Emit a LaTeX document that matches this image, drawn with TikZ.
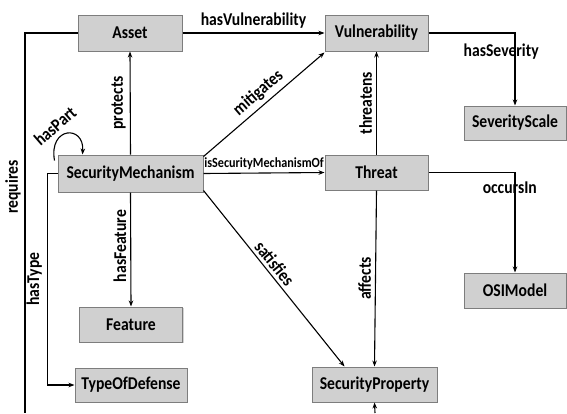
\documentclass[tikz,border=0pt]{standalone}
\usepackage{fontspec}
\setmainfont{Carlito}[FakeStretch=0.87]
\usetikzlibrary{arrows.meta,shadows}
\definecolor{boxfill}{RGB}{208,208,208}
\definecolor{boxline}{RGB}{125,125,125}
\tikzset{
  cls/.style={draw=boxline, fill=boxfill, line width=1pt, inner sep=0pt,
    font=\fontsize{18}{20}\selectfont\bfseries,
    drop shadow={shadow xshift=1.2pt, shadow yshift=-1.2pt, opacity=0.35}},
  rel/.style={line width=1.1pt, -{Stealth[length=6pt,width=4.5pt]}},
  plain/.style={line width=1.1pt},
  lab/.style={font=\fontsize{18}{20}\selectfont\bfseries, inner sep=0pt},
  slab/.style={font=\fontsize{14}{16}\selectfont\bfseries, inner sep=0pt},
}
\begin{document}
\begin{tikzpicture}[x=1pt,y=-1pt]
\useasboundingbox (0,0) rectangle (567,413);
% nodes
\node[cls, minimum width=104pt, minimum height=36pt] (asset) at (130,33) {Asset};
\node[cls, minimum width=103pt, minimum height=36pt] (vul) at (376.5,33) {Vulnerability};
\node[cls, minimum width=102pt, minimum height=34pt] (sev) at (515,123) {SeverityScale};
\node[cls, minimum width=145pt, minimum height=37pt] (sm) at (130.5,173.5) {SecurityMechanism};
\node[cls, minimum width=103pt, minimum height=35pt] (thr) at (376.5,172.5) {Threat};
\node[cls, minimum width=103pt, minimum height=35pt] (feat) at (131,324.5) {Feature};
\node[cls, minimum width=112pt, minimum height=34pt] (tod) at (131,385) {TypeOfDefense};
\node[cls, minimum width=102pt, minimum height=35pt] (osi) at (515,290.5) {OSIModel};
\node[cls, minimum width=125pt, minimum height=35pt] (sp) at (374.5,384.5) {SecurityProperty};
% coordinates
\coordinate (reqend) at (25,413);
\coordinate (spin) at (375,413);
% edges
\draw[rel] (asset.east) -- node[lab, above=4pt] {hasVulnerability} (vul.west);
\draw[plain] (asset.west) -| (reqend);
\node[lab, rotate=90] (reqlab) at (13,187) {requires};
\draw[rel] (sm.north) -- node[lab, rotate=90, above=4pt, anchor=south] {protects} (asset.south);
\draw[rel] ([xshift=-3pt,yshift=-6pt]sm.north west) .. controls +(-6,-34) and +(2,-30) .. ([xshift=25pt]sm.north west);
\node[lab, rotate=41] (hplab) at (55,126) {hasPart};
\draw[rel] ([yshift=-2pt]sm.north east) -- node[lab, sloped, above=4pt, pos=0.52] {mitigates} ([yshift=-1pt]vul.south west);
\draw[rel] (sm.east) -- node[slab, above=3pt] {isSecurityMechanismOf} (thr.west);
\draw[rel] ([yshift=2pt]sm.south east) -- node[lab, sloped, above=3pt, pos=0.45] {satisfies} ([xshift=-30pt]sp.north);
\draw[rel] (sm.south) -- node[lab, rotate=90, anchor=south, above=4pt, pos=0.47] {hasFeature} (feat.north);
\draw[rel] (sm.west) -- ++(-10,0) |- node[lab, rotate=90, anchor=south, pos=0.25, above=5pt] {hasType} (tod.west);
\draw[rel] (thr.north) -- node[lab, rotate=90, anchor=south, above=4pt] {threatens} (vul.south);
\draw[rel] (vul.east) -| node[lab, pos=0.42, below=10pt] {hasSeverity} (sev.north);
\draw[rel] (thr.east) -| node[lab, pos=0.47, below=9pt] {occursIn} (osi.north);
\draw[rel] (thr.south) -- node[lab, rotate=90, anchor=south, above=4pt, pos=0.5] {affects} (sp.north);
\draw[rel] (spin) -- (sp.south);
\end{tikzpicture}
\end{document}
